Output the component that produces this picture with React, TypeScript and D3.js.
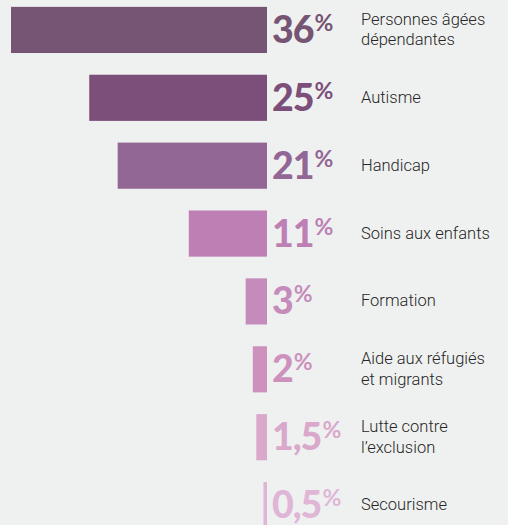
import React from "react";
import * as d3 from "d3";

const categories: string[][] = [
  ["Personnes âgées", "dépendantes"],
  ["Autisme"],
  ["Handicap"],
  ["Soins aux enfants"],
  ["Formation"],
  ["Aide aux réfugiés", "et migrants"],
  ["Lutte contre", "l’exclusion"],
  ["Secourisme"],
];
const values: number[] = [36, 25, 21, 11, 3, 2, 1.5, 0.5];
const valueLabels: string[] = ["36", "25", "21", "11", "3", "2", "1,5", "0,5"];
const colors: string[] = [
  "#765473",
  "#7b4f7a",
  "#936795",
  "#bd7fb4",
  "#c58bbb",
  "#cd91be",
  "#d9a8cb",
  "#e0b6d6",
];

const W = 508;
const H = 525;
const BG = "#eff1f0";

export default function App() {
  const barRight = 267;
  const x = d3.scaleLinear().domain([0, 36]).range([0, 256]);
  const y = d3
    .scaleBand<number>()
    .domain(d3.range(values.length))
    .range([-4, 539])
    .paddingInner(0.32)
    .paddingOuter(0.16);
  const bh = y.bandwidth();

  return (
    <div style={{ position: "fixed", left: 0, top: 0, width: W, height: H, background: BG }}>
      <svg width={W} height={H} style={{ display: "block" }}>
        <rect width={W} height={H} fill={BG} />
        {values.map((v, i) => {
          const top = y(i)!;
          const cy = top + bh / 2;
          const w = x(v);
          const lines = categories[i];
          return (
            <g key={i}>
              <rect x={barRight - w} y={top} width={w} height={bh} fill={colors[i]} />
              <text
                x={barRight + 5}
                y={cy + 13}
                fill={colors[i]}
                style={{ fontFamily: "Lato", fontWeight: 900, fontSize: 37.5, letterSpacing: -1 }}
              >
                {valueLabels[i]}
                <tspan dx={1} dy={-12} style={{ fontSize: 23, fontWeight: 700, letterSpacing: 0 }}>
                  %
                </tspan>
              </text>
              <text
                x={361}
                y={lines.length === 1 ? cy + 5 : cy - 5}
                fill="#262626"
                style={{ fontFamily: "Roboto", fontWeight: 300, fontSize: 16.5 }}
              >
                {lines.map((l, j) => (
                  <tspan key={j} x={361} dy={j === 0 ? 0 : 20.5}>
                    {l}
                  </tspan>
                ))}
              </text>
            </g>
          );
        })}
      </svg>
    </div>
  );
}
